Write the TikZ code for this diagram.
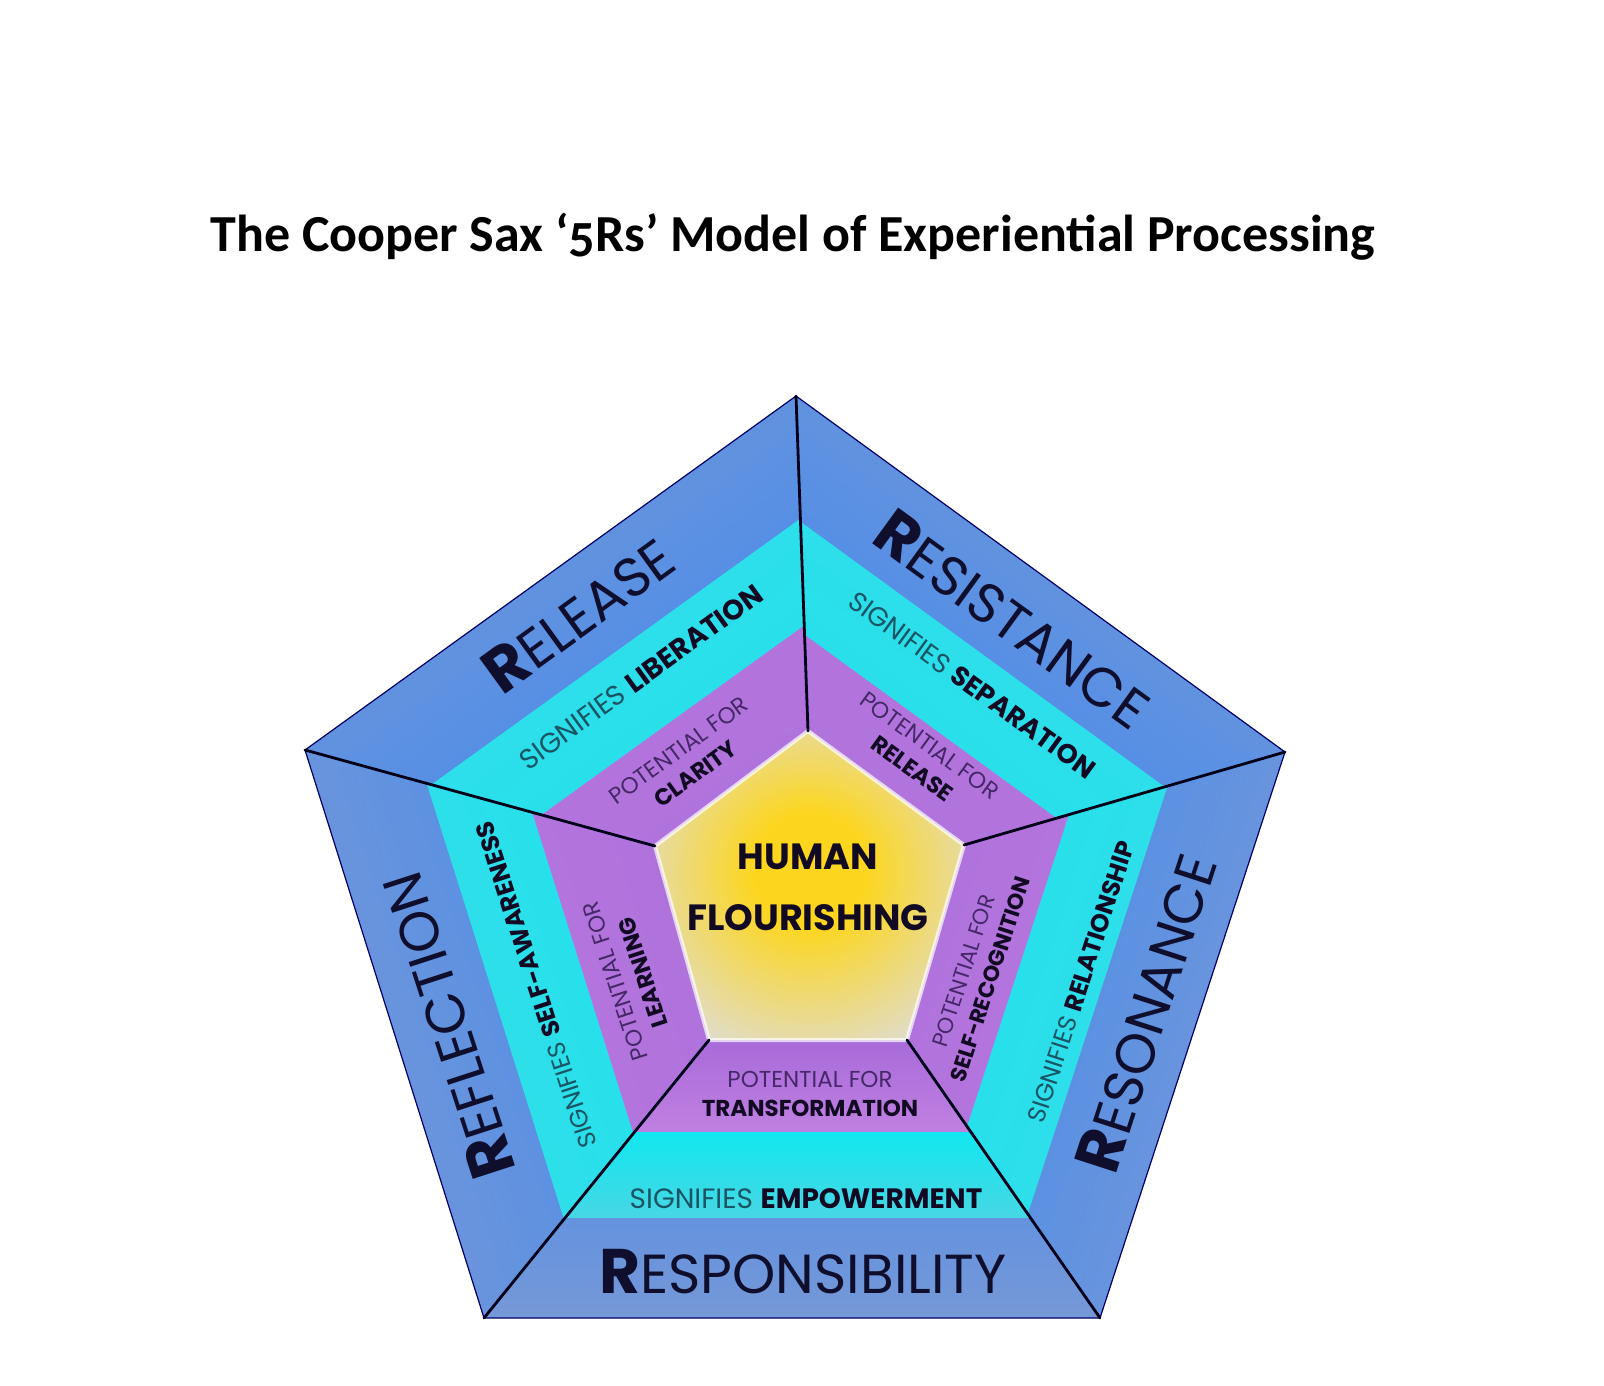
\documentclass[tikz,border=0pt]{standalone}
\usepackage{fontspec}
\setmainfont{Poppins}
\newfontfamily\titlefont[Numbers=OldStyle]{Carlito}
\usetikzlibrary{calc}
\definecolor{blueOut}{RGB}{118,152,215}
\definecolor{blueIn}{RGB}{68,138,236}
\definecolor{cyanOut}{RGB}{70,215,228}
\definecolor{cyanIn}{RGB}{15,232,240}
\definecolor{purpOut}{RGB}{192,128,226}
\definecolor{purpIn}{RGB}{162,102,214}
\definecolor{sunY}{RGB}{252,214,30}
\definecolor{paleC}{RGB}{218,222,244}
\definecolor{navyT}{RGB}{15,15,45}
\definecolor{tealT}{RGB}{25,85,100}
\definecolor{purpT}{RGB}{70,40,105}
\definecolor{darkT}{RGB}{18,10,35}
\pgfdeclareradialshading{flour}{\pgfpoint{0bp}{3bp}}{color(0bp)=(sunY);color(9bp)=(sunY);color(36bp)=(paleC);color(60bp)=(paleC)}
\newcommand\myseg[7]{%
  \begin{scope}
    \clip (#1) -- (#2) -- (#3) -- (#4) -- cycle;
    \coordinate (xa) at ($(#1)!-1!(#2)$);
    \coordinate (xb) at ($(#2)!-1!(#1)$);
    \shade[top color=blueOut, bottom color=blueIn, shading angle=#7]
      (#1) -- (#2) -- (#3) -- (#4) -- cycle;
    \shade[top color=cyanOut, bottom color=cyanIn, shading angle=#7]
      ($(xa)!#5!-90:(xb)$) -- ($(xb)!#5!90:(xa)$) -- ($(xb)!#6+4pt!90:(xa)$) -- ($(xa)!#6+4pt!-90:(xb)$) -- cycle;
    \shade[top color=purpOut, bottom color=purpIn, shading angle=#7]
      ($(xa)!#6!-90:(xb)$) -- ($(xb)!#6!90:(xa)$) -- ($(xb)!#6+110pt!90:(xa)$) -- ($(xa)!#6+110pt!-90:(xb)$) -- cycle;
  \end{scope}}
\newcommand\bigR{{\bfseries\fontsize{63}{63}\selectfont R}}
\begin{document}
\begin{tikzpicture}[x=1pt,y=-1pt,
  divider/.style={draw=black!90!blue, line width=2.8pt, line cap=round},
  major/.style={text=navyT, inner sep=0pt, font=\fontsize{55}{55}\selectfont},
  sig/.style={text=tealT, inner sep=0pt, font=\fontsize{28}{28}\selectfont},
  sigsmall/.style={text=tealT, inner sep=0pt, font=\fontsize{25}{25}\selectfont},
  pot/.style={text=purpT, inner sep=0pt, align=center, font=\fontsize{23}{29}\selectfont},
  core/.style={text=darkT, inner sep=0pt, font=\bfseries\fontsize{36.5}{36.5}\selectfont}]
\useasboundingbox (0,0) rectangle (1604,1386);
\fill[white] (0,0) rectangle (1604,1386);
% outer pentagon
\coordinate (T) at (796,396);
\coordinate (R) at (1285,752);
\coordinate (BR) at (1100,1318);
\coordinate (BL) at (484,1318);
\coordinate (L) at (305,750);
% inner pentagon
\coordinate (iT) at (808,731);
\coordinate (iR) at (964,845);
\coordinate (iBR) at (907,1040);
\coordinate (iBL) at (709,1040);
\coordinate (iL) at (655,846);
% segments
\myseg{L}{T}{iT}{iL}{102pt}{191pt}{36}
\myseg{T}{R}{iR}{iT}{99pt}{188pt}{-36}
\myseg{R}{BR}{iBR}{iR}{101pt}{186pt}{-108}
\myseg{BR}{BL}{iBL}{iBR}{101pt}{187pt}{180}
\myseg{BL}{L}{iL}{iBL}{106pt}{198pt}{108}
% centre
\begin{scope}
  \clip (iT) -- (iR) -- (iBR) -- (iBL) -- (iL) -- cycle;
  \shade[shading=flour] (iT) -- (iR) -- (iBR) -- (iBL) -- (iL) -- cycle;
\end{scope}
\draw[white, opacity=0.7, line width=4pt, line join=round] (iT) -- (iR) -- (iBR) -- (iBL) -- (iL) -- cycle;
\draw[draw=blue!40!black, line width=1.2pt, line join=round] (T) -- (R) -- (BR) -- (BL) -- (L) -- cycle;
% dividers
\draw[divider] (T) -- (iT);
\draw[divider] (R) -- (iR);
\draw[divider] (BR) -- (iBR);
\draw[divider] (BL) -- (iBL);
\draw[divider] (L) -- (iL);
% title
\node (title) at (793,237) {\titlefont\bfseries\fontsize{52}{52}\selectfont The Cooper Sax ‘5Rs’ Model of Experiential Processing};
% Release
\node[major, rotate=36] (rel) at (578,614) {\bigR ELEASE};
\node[sig, rotate=36] (relS) at (641,677) {SIGNIFIES {\color{darkT}\bfseries LIBERATION}};
\node[pot, rotate=36] (relP) at (687,762) {POTENTIAL FOR\\{\color{darkT}\bfseries CLARITY}};
% Resistance
\node[major, rotate=-36] (res) at (1013,619) {\bigR ESISTANCE};
\node[sig, rotate=-36, font=\fontsize{27}{27}\selectfont] (resS) at (972,685) {SIGNIFIES {\color{darkT}\bfseries SEPARATION}};
\node[pot, rotate=-36] (resP) at (921,757) {POTENTIAL FOR\\{\color{darkT}\bfseries RELEASE}};
% Reflection
\node[major, rotate=108] (ref) at (447,1026) {\bigR EFLECTION};
\node[sigsmall, rotate=108] (refS) at (536,985) {SIGNIFIES {\color{darkT}\bfseries SELF-AWARENESS}};
\node[pot, rotate=108] (refP) at (629,977) {POTENTIAL FOR\\{\color{darkT}\bfseries LEARNING}};
% Resonance
\node[major, rotate=72] (rso) at (1146,1013) {\bigR ESONANCE};
\node[sigsmall, rotate=72] (rsoS) at (1081,982) {SIGNIFIES {\color{darkT}\bfseries RELATIONSHIP}};
\node[pot, rotate=72, font=\fontsize{22}{28}\selectfont] (rsoP) at (977,975) {POTENTIAL FOR\\{\color{darkT}\bfseries SELF-RECOGNITION}};
% Responsibility
\node[major] (rsp) at (803,1272) {\bigR ESPONSIBILITY};
\node[sig] (rspS) at (806,1199) {SIGNIFIES {\color{darkT}\bfseries EMPOWERMENT}};
\node[pot] (rspP) at (810,1094) {POTENTIAL FOR\\{\color{darkT}\bfseries TRANSFORMATION}};
% core
\node[core] (hum) at (808,857) {HUMAN};
\node[core] (flo) at (808,918) {FLOURISHING};
\end{tikzpicture}
\end{document}
